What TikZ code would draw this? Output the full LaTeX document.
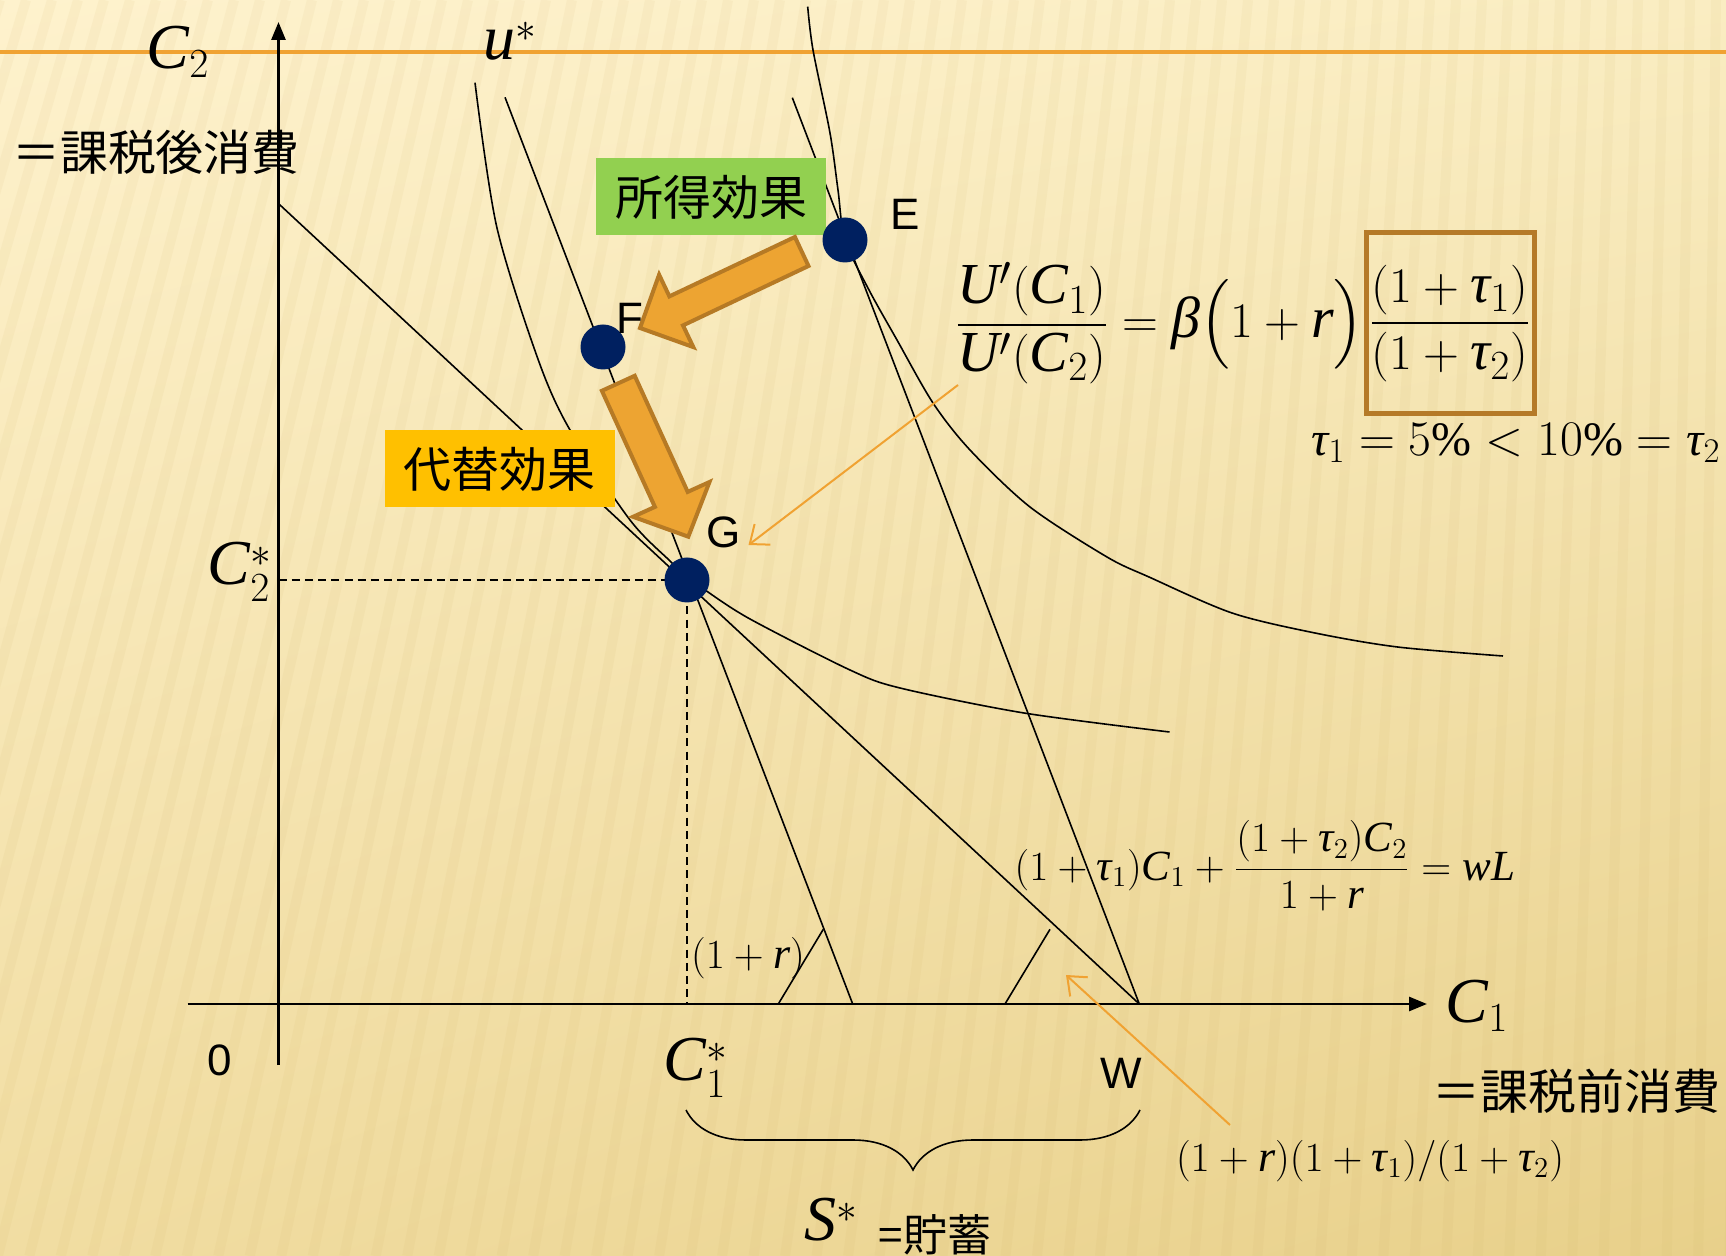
\documentclass[tikz,border=0pt]{standalone}
\usepackage{amsmath}
\usepackage{fontspec}
\setmainfont{Liberation Serif}
\newfontfamily\cjk{Noto Sans CJK JP}
\newfontfamily\arialf{Liberation Sans}
\usetikzlibrary{arrows.meta,decorations.pathreplacing,shadings}
\newcommand\mv[1]{\mathit{#1}}
\newcommand\gtau{\text{\itshape τ}}
\newcommand\gbeta{\text{\itshape β}}
\definecolor{bgA}{HTML}{FEF2CD}
\definecolor{bgB}{HTML}{FAEDC2}
\definecolor{bgC}{HTML}{F1DDA2}
\definecolor{bgD}{HTML}{E8D08A}
\definecolor{stripe}{HTML}{C9A85A}
\definecolor{navy}{HTML}{002060}
\definecolor{effgreen}{HTML}{92D050}
\definecolor{effyellow}{HTML}{FFC000}
\definecolor{arrfill}{HTML}{EDA432}
\definecolor{arrdraw}{HTML}{B67A25}
\definecolor{orline}{HTML}{F0A232}
\definecolor{boxbrown}{HTML}{B57A28}
\begin{document}
\begin{tikzpicture}[x=0.5pt,y=-0.5pt,
  curve/.style={line width=0.8pt},
  axisln/.style={line width=1.4pt,-{Triangle[length=9pt,width=7pt]}},
  dot/.style={circle,fill=navy,minimum size=22.5pt,inner sep=0pt},
  ptlab/.style={font=\arialf\fontsize{22}{24}\selectfont,inner sep=0pt},
  mlab/.style={font=\fontsize{32}{36}\selectfont,inner sep=0pt},
  jp/.style={font=\cjk\fontsize{24}{28}\selectfont,inner sep=0pt},
  effbox/.style={font=\cjk\fontsize{24}{28}\selectfont,minimum width=115pt,minimum height=38.5pt,inner sep=0pt},
  pointer/.style={draw=orline,line width=1pt,-{Straight Barb[length=8pt,width=13pt,line width=1pt]}},
  guide/.style={line width=0.7pt,dash pattern=on 4pt off 2.6pt},
  blockarrow/.style={fill=arrfill,draw=arrdraw,line width=2pt,line join=miter},
  bgstripe/.style={draw=stripe,line width=5pt,opacity=0.07},
]
\useasboundingbox (0,0) rectangle (1726,1256);
\shade[upper left=bgA,upper right=bgB,lower left=bgC,lower right=bgD] (0,0) rectangle (1726,1256);
% background texture
\begin{scope}
\clip (0,0) rectangle (1726,1256);
\foreach \i in {0,...,70}{
  \pgfmathsetmacro\xt{\i*26}
  \pgfmathsetmacro\xb{\xt-380*(1-\xt/1800)}
  \draw[bgstripe] (\xb,1256) -- (\xt,0);
}
\end{scope}
% top rule
\draw[orline,line width=1.6pt] (0,52) -- (1726,52);

% axes
\coordinate (ytop) at (278.5,22);
\coordinate (ybot) at (278.5,1065);
\coordinate (xl) at (187.5,1004);
\coordinate (xr) at (1427,1004);
\draw[axisln] (ybot) -- (ytop);
\draw[axisln] (xl) -- (xr);

% key points
\coordinate (W) at (1139.3,1004);
\coordinate (Btop) at (792.3,97.7);
\coordinate (Ptop) at (505,97.3);
\coordinate (Pbot) at (852.7,1004);
\coordinate (Ntop) at (278.5,203.6);
\coordinate (Gp) at (687,580);
\coordinate (C2ax) at (278.5,580);
\coordinate (C1ax) at (687,1004);

% budget lines
\draw[curve] (Btop) -- (W);
\draw[curve] (Ptop) -- (Pbot);
\draw[curve] (Ntop) -- (W);

% slope markers
\coordinate (m1a) at (778.3,1004);
\coordinate (m1b) at (823.3,929.3);
\coordinate (m2a) at (1005,1004);
\coordinate (m2b) at (1050,929.3);
\draw[curve] (m1a) -- (m1b);
\draw[curve] (m2a) -- (m2b);

% indifference curves
\draw[curve] plot[smooth,tension=0.5] coordinates {(807.7,6.7) (813,50) (830,133) (838,190) (845,240) (869,290) (897,340) (933,403) (970,450) (1030,507) (1107,557) (1149,577) (1232,613) (1315,633) (1397.5,647) (1503,656)};
\draw[curve] plot[smooth,tension=0.5] coordinates {(475,82.7) (496.7,226.7) (538.3,360) (570,430) (630,520) (670,561) (687,577) (705,590) (750,619) (850,670) (900,688) (1024,713) (1169.5,732)};

% guides
\draw[guide] (C2ax) -- (Gp);
\draw[guide] (Gp) -- (C1ax);

% brace
\coordinate (brL) at (686,1110);
\coordinate (brR) at (1140,1110);
\draw[decorate,decoration={brace,amplitude=30pt,mirror},line width=0.8pt] (brL) -- (brR);

% effect boxes
\node[effbox,fill=effgreen] (income) at (711,197) {所得効果};
\node[effbox,fill=effyellow] (subst) at (499.5,469) {代替効果};

% block arrows
\draw[blockarrow] (808.5,266.0) -- (794.9,237.0) -- (669.4,296.4) -- (659.1,274.7) -- (640,328) -- (693.3,347.1) -- (683.0,325.4) -- cycle;
\draw[blockarrow] (634.7,375.8) -- (687.7,491.9) -- (709.5,482.0) -- (688.3,536.7) -- (633.1,516.8) -- (654.9,506.9) -- (601.9,390.8) -- cycle;

% points
\node[dot] (E) at (845,240) {};
\node[dot] (F) at (603,347) {};
\node[dot] (G) at (687,580) {};
\node[ptlab] (Elab) at (905,214) {E};
\node[ptlab] (Flab) at (630,318) {F};
\node[ptlab] (Glab) at (724,532) {G};
\node[ptlab] (Wlab) at (1121,1073) {W};
\node[ptlab] (zero) at (220,1060) {0};

% axis labels
\node[mlab] (C2lab) at (178,52) {$\mv{C}_2$};
\node[mlab] (ustar) at (510,41) {$\mv{u}^*$};
\node[jp] (after) at (156,152) {＝課税後消費};
\node[mlab] (C1lab) at (1477,1006) {$\mv{C}_1$};
\node[jp] (before) at (1576,1091) {＝課税前消費};
\node[mlab] (C1star) at (696,1068) {$\mv{C}_1^*$};
\node[mlab] (C2star) at (240,572) {$\mv{C}_2^*$};
\node[mlab] (Sstar) at (831,1220) {$\mv{S}^*$};
\node[font=\cjk\fontsize{22}{26}\selectfont,inner sep=0pt] (saving) at (935,1235) {=貯蓄};

% equations
\node[draw=boxbrown,line width=2.5pt,minimum width=84pt,minimum height=90.5pt,inner sep=0pt,font=\fontsize{28}{32}\selectfont] (taxbox) at (1450,323.5) {$\dfrac{(1+\gtau_1)}{(1+\gtau_2)}$};
\node[anchor=east,inner sep=0pt,font=\fontsize{29}{33}\selectfont] (euler) at (1364,323) {$\dfrac{\mv{U}'(\mv{C}_1)}{\mv{U}'(\mv{C}_2)}=\gbeta\Bigl(1+\mv{r}\Bigr)$};
\node[inner sep=0pt,font=\fontsize{24}{28}\selectfont] (taus) at (1516,443) {$\gtau_1=5\%<10\%=\gtau_2$};
\node[inner sep=0pt,font=\fontsize{21.5}{26}\selectfont] (budget) at (1265,866) {$(1+\gtau_1)\mv{C}_1+\dfrac{(1+\gtau_2)\mv{C}_2}{1+\mv{r}}=\mv{wL}$};
\node[inner sep=0pt,font=\fontsize{22}{26}\selectfont] (onerlab) at (748,958) {$(1+\mv{r})$};
\node[inner sep=0pt,font=\fontsize{22}{26}\selectfont] (ratio) at (1370,1161) {$(1+\mv{r})(1+\gtau_1)/(1+\gtau_2)$};

% thin pointers
\coordinate (p1s) at (958,385);
\coordinate (p1e) at (748.5,545);
\coordinate (p2s) at (1230,1125);
\coordinate (p2e) at (1066,975);
\draw[pointer] (p1s) -- (p1e);
\draw[pointer] (p2s) -- (p2e);
\end{tikzpicture}
\end{document}
